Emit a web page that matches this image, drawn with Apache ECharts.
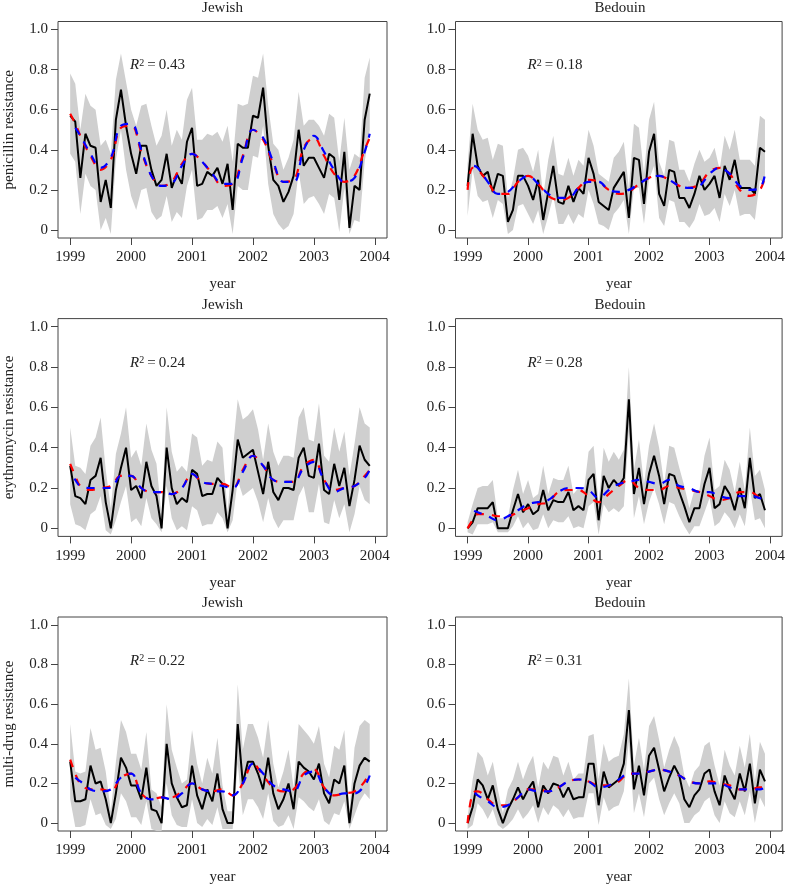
<!DOCTYPE html>
<html><head><meta charset="utf-8">
<script src="https://cdn.jsdelivr.net/npm/echarts@6/dist/echarts.min.js"></script>
<style>html,body{margin:0;padding:0;background:#fff}#c{width:788px;height:886px}</style>
</head><body><div id="c"></div>
<script>
// ---------- tick labels / categories ----------
const yearTicks = [1999, 2000, 2001, 2002, 2003, 2004];
const yearLabels = ['1999', '2000', '2001', '2002', '2003', '2004'];
const yTicks = [0, 0.2, 0.4, 0.6, 0.8, 1.0];
const yLabels = ['0', '0.2', '0.4', '0.6', '0.8', '1.0'];
const panelTitles = ['Jewish', 'Bedouin', 'Jewish', 'Bedouin', 'Jewish', 'Bedouin'];
const rowNames = ['penicillin resistance', 'erythromycin resistance', 'multi-drug resistance'];
const r2Values = ['0.43', '0.18', '0.24', '0.28', '0.22', '0.31'];
// month indices of observations (Jan 1999 = 0) and of fitted-curve readings
const monthIdx = [0,1,2,3,4,5,6,7,8,9,10,11,12,13,14,15,16,17,18,19,20,21,22,23,24,25,26,27,28,29,30,31,32,33,34,35,36,37,38,39,40,41,42,43,44,45,46,47,48,49,50,51,52,53,54,55,56,57,58,59];
const fitIdx = [0,1,2,4,6,8,10,12,14,16,18,20,22,24,26,28,30,32,34,36,38,40,42,44,46,48,50,52,54,56,58,59];

// ---------- penicillin, Jewish ----------
const penJewObs = [0.57,0.54,0.26,0.48,0.42,0.41,0.14,0.25,0.11,0.55,0.70,0.52,0.38,0.28,0.42,0.42,0.30,0.22,0.25,0.38,0.21,0.28,0.23,0.44,0.51,0.22,0.23,0.29,0.27,0.31,0.23,0.33,0.10,0.43,0.41,0.41,0.57,0.56,0.71,0.42,0.25,0.22,0.14,0.19,0.27,0.50,0.32,0.36,0.36,0.31,0.26,0.38,0.36,0.15,0.39,0.01,0.22,0.20,0.55,0.68];
const penJewHi = [0.78,0.73,0.50,0.68,0.62,0.60,0.42,0.45,0.38,0.75,0.88,0.74,0.60,0.52,0.62,0.63,0.52,0.42,0.47,0.60,0.42,0.50,0.45,0.65,0.71,0.45,0.45,0.48,0.47,0.49,0.44,0.52,0.34,0.63,0.62,0.63,0.77,0.76,0.88,0.62,0.43,0.40,0.30,0.36,0.45,0.69,0.52,0.55,0.55,0.52,0.47,0.58,0.56,0.34,0.56,0.30,0.38,0.36,0.76,0.86];
const penJewLo = [0.38,0.34,0.08,0.28,0.22,0.20,0.00,0.06,-0.02,0.35,0.50,0.30,0.17,0.10,0.20,0.21,0.09,0.05,0.07,0.17,0.04,0.09,0.06,0.22,0.30,0.05,0.06,0.10,0.10,0.12,0.06,0.13,-0.02,0.22,0.20,0.20,0.37,0.36,0.52,0.23,0.08,0.03,0.00,0.02,0.08,0.29,0.13,0.16,0.17,0.13,0.08,0.18,0.16,-0.01,0.21,-0.02,0.05,0.04,0.34,0.50];
const penJewRed = [0.58,0.53,0.47,0.37,0.30,0.35,0.51,0.52,0.39,0.27,0.22,0.24,0.33,0.38,0.34,0.28,0.22,0.23,0.37,0.50,0.45,0.33,0.24,0.25,0.41,0.46,0.37,0.28,0.24,0.27,0.40,0.46];
const penJewBlue = [0.54,0.51,0.47,0.38,0.31,0.36,0.52,0.53,0.40,0.27,0.22,0.23,0.32,0.38,0.34,0.28,0.23,0.23,0.36,0.50,0.46,0.34,0.24,0.24,0.40,0.47,0.39,0.30,0.24,0.26,0.39,0.48];

// ---------- penicillin, Bedouin ----------
const penBedObs = [0.22,0.48,0.32,0.27,0.29,0.19,0.28,0.27,0.04,0.10,0.27,0.27,0.22,0.15,0.25,0.05,0.19,0.32,0.14,0.13,0.22,0.14,0.21,0.18,0.36,0.28,0.14,0.12,0.10,0.21,0.25,0.29,0.06,0.36,0.35,0.13,0.39,0.48,0.18,0.12,0.30,0.29,0.16,0.16,0.11,0.18,0.27,0.20,0.23,0.27,0.16,0.32,0.25,0.35,0.21,0.21,0.21,0.18,0.41,0.39];
const penBedHi = [0.33,0.63,0.50,0.45,0.46,0.35,0.43,0.42,0.16,0.25,0.40,0.41,0.37,0.29,0.40,0.17,0.35,0.47,0.28,0.27,0.36,0.27,0.35,0.32,0.50,0.42,0.28,0.26,0.24,0.36,0.39,0.44,0.21,0.53,0.51,0.28,0.55,0.64,0.34,0.27,0.45,0.44,0.30,0.30,0.24,0.33,0.40,0.34,0.36,0.41,0.30,0.47,0.40,0.50,0.35,0.35,0.35,0.32,0.57,0.55];
const penBedLo = [0.07,0.30,0.17,0.14,0.15,0.06,0.15,0.13,-0.02,0.00,0.12,0.13,0.08,0.03,0.10,-0.02,0.07,0.17,0.03,0.03,0.08,0.03,0.08,0.06,0.20,0.13,0.03,0.02,0.00,0.08,0.11,0.15,-0.02,0.21,0.21,0.03,0.25,0.32,0.06,0.02,0.15,0.14,0.04,0.04,0.01,0.05,0.13,0.07,0.08,0.11,0.04,0.18,0.12,0.20,0.07,0.08,0.08,0.05,0.25,0.23];
const penBedRed = [0.20,0.31,0.30,0.24,0.18,0.18,0.24,0.27,0.23,0.17,0.15,0.16,0.21,0.25,0.24,0.20,0.18,0.19,0.23,0.26,0.27,0.25,0.22,0.21,0.23,0.29,0.31,0.28,0.20,0.17,0.20,0.27];
const penBedBlue = [0.30,0.32,0.31,0.24,0.18,0.19,0.24,0.27,0.23,0.18,0.16,0.16,0.21,0.24,0.24,0.20,0.19,0.20,0.23,0.26,0.27,0.25,0.22,0.21,0.22,0.28,0.31,0.28,0.22,0.20,0.21,0.28];

// ---------- erythromycin, Jewish ----------
const eryJewObs = [0.31,0.16,0.15,0.12,0.24,0.26,0.35,0.13,0.00,0.19,0.30,0.40,0.19,0.21,0.15,0.33,0.21,0.16,0.00,0.40,0.20,0.12,0.15,0.13,0.29,0.27,0.16,0.17,0.17,0.25,0.22,0.00,0.19,0.44,0.35,0.37,0.39,0.28,0.17,0.33,0.18,0.14,0.20,0.20,0.19,0.35,0.40,0.26,0.25,0.42,0.19,0.17,0.32,0.21,0.30,0.11,0.24,0.41,0.34,0.31];
const eryJewHi = [0.50,0.31,0.30,0.27,0.41,0.45,0.55,0.29,0.10,0.37,0.47,0.60,0.35,0.39,0.31,0.52,0.39,0.32,0.06,0.60,0.38,0.28,0.31,0.28,0.47,0.45,0.31,0.34,0.33,0.43,0.40,0.08,0.38,0.64,0.54,0.56,0.59,0.49,0.34,0.52,0.38,0.31,0.36,0.36,0.35,0.55,0.60,0.44,0.43,0.62,0.36,0.33,0.50,0.38,0.48,0.26,0.42,0.60,0.52,0.50];
const eryJewLo = [0.12,0.02,0.01,-0.01,0.07,0.09,0.16,-0.01,-0.03,0.04,0.13,0.21,0.03,0.05,0.01,0.15,0.05,0.02,-0.02,0.21,0.05,-0.01,0.01,-0.01,0.11,0.09,0.01,0.02,0.02,0.08,0.05,-0.02,0.04,0.24,0.16,0.18,0.20,0.13,0.03,0.15,0.05,0.00,0.04,0.04,0.04,0.16,0.21,0.08,0.08,0.22,0.03,0.02,0.14,0.05,0.12,-0.02,0.07,0.21,0.14,0.12];
const eryJewRed = [0.32,0.26,0.21,0.19,0.20,0.21,0.26,0.26,0.20,0.18,0.18,0.17,0.20,0.27,0.23,0.22,0.22,0.20,0.29,0.36,0.31,0.24,0.23,0.23,0.31,0.34,0.24,0.19,0.20,0.21,0.26,0.29];
const eryJewBlue = [0.28,0.24,0.21,0.20,0.20,0.20,0.26,0.26,0.20,0.18,0.18,0.17,0.20,0.27,0.23,0.22,0.21,0.20,0.28,0.36,0.31,0.24,0.23,0.23,0.30,0.33,0.24,0.18,0.20,0.21,0.25,0.29];

// ---------- erythromycin, Bedouin ----------
const eryBedObs = [0.00,0.03,0.10,0.10,0.10,0.13,0.00,0.00,0.00,0.09,0.17,0.08,0.12,0.07,0.09,0.19,0.09,0.14,0.13,0.13,0.18,0.09,0.11,0.09,0.24,0.27,0.04,0.26,0.20,0.24,0.21,0.25,0.64,0.17,0.30,0.12,0.27,0.36,0.26,0.12,0.27,0.26,0.18,0.11,0.03,0.10,0.10,0.22,0.30,0.10,0.12,0.21,0.17,0.09,0.20,0.10,0.35,0.15,0.17,0.09];
const eryBedHi = [0.03,0.12,0.20,0.21,0.21,0.24,0.05,0.05,0.05,0.19,0.29,0.17,0.24,0.15,0.17,0.31,0.17,0.25,0.24,0.24,0.31,0.17,0.20,0.17,0.38,0.41,0.12,0.40,0.33,0.38,0.34,0.39,0.80,0.29,0.44,0.22,0.41,0.52,0.40,0.22,0.41,0.40,0.30,0.21,0.10,0.19,0.19,0.36,0.45,0.19,0.21,0.34,0.29,0.18,0.33,0.19,0.50,0.26,0.29,0.19];
const eryBedLo = [-0.02,-0.03,0.02,0.02,0.02,0.03,-0.02,-0.02,-0.02,0.01,0.06,0.00,0.03,-0.01,0.00,0.07,0.00,0.04,0.03,0.03,0.06,0.00,0.01,0.00,0.11,0.13,-0.03,0.12,0.08,0.10,0.08,0.11,0.48,0.05,0.16,0.02,0.13,0.20,0.12,0.02,0.13,0.12,0.06,0.01,-0.03,0.01,0.01,0.08,0.15,0.01,0.03,0.08,0.05,0.00,0.07,0.01,0.20,0.04,0.05,0.00];
const eryBedRed = [0.00,0.04,0.07,0.07,0.06,0.06,0.08,0.10,0.12,0.13,0.18,0.19,0.19,0.16,0.13,0.17,0.21,0.24,0.20,0.19,0.19,0.21,0.20,0.19,0.18,0.16,0.14,0.15,0.18,0.18,0.15,0.13];
const eryBedBlue = [0.11,0.09,0.08,0.06,0.04,0.06,0.09,0.12,0.13,0.14,0.18,0.20,0.20,0.19,0.15,0.19,0.22,0.23,0.24,0.23,0.22,0.24,0.21,0.20,0.18,0.18,0.16,0.15,0.16,0.16,0.15,0.14];

// ---------- multi-drug, Jewish ----------
const mdrJewObs = [0.31,0.11,0.11,0.12,0.29,0.20,0.21,0.12,0.00,0.15,0.33,0.28,0.19,0.19,0.12,0.28,0.07,0.06,0.00,0.40,0.20,0.13,0.08,0.09,0.29,0.14,0.07,0.17,0.11,0.25,0.07,0.00,0.00,0.50,0.20,0.31,0.31,0.25,0.17,0.33,0.15,0.07,0.12,0.20,0.07,0.31,0.28,0.26,0.22,0.30,0.15,0.10,0.22,0.20,0.29,0.00,0.20,0.29,0.33,0.31];
const mdrJewHi = [0.50,0.26,0.25,0.26,0.48,0.37,0.38,0.26,0.06,0.31,0.52,0.46,0.35,0.35,0.27,0.46,0.17,0.15,0.08,0.60,0.37,0.28,0.20,0.22,0.47,0.30,0.20,0.33,0.25,0.43,0.19,0.06,0.06,0.70,0.37,0.50,0.50,0.43,0.33,0.52,0.30,0.18,0.26,0.37,0.18,0.50,0.47,0.44,0.40,0.49,0.30,0.23,0.39,0.37,0.47,0.06,0.38,0.49,0.52,0.50];
const mdrJewLo = [0.12,-0.02,-0.02,-0.01,0.12,0.04,0.05,-0.01,-0.03,0.02,0.15,0.11,0.03,0.03,-0.01,0.11,-0.03,-0.04,-0.04,0.20,0.04,-0.01,-0.02,-0.02,0.12,0.00,-0.02,0.02,-0.01,0.08,-0.03,-0.03,-0.03,0.30,0.04,0.12,0.12,0.08,0.02,0.15,0.01,-0.02,-0.01,0.04,-0.03,0.13,0.11,0.08,0.06,0.12,0.01,-0.01,0.05,0.04,0.11,-0.03,0.04,0.11,0.15,0.12];
const mdrJewRed = [0.32,0.25,0.20,0.17,0.17,0.16,0.23,0.25,0.15,0.12,0.13,0.13,0.16,0.20,0.17,0.16,0.17,0.14,0.20,0.30,0.24,0.18,0.16,0.17,0.25,0.27,0.18,0.14,0.15,0.16,0.21,0.26];
const mdrJewBlue = [0.26,0.23,0.21,0.17,0.16,0.17,0.23,0.25,0.15,0.12,0.13,0.12,0.15,0.20,0.17,0.16,0.16,0.14,0.20,0.30,0.25,0.19,0.17,0.16,0.24,0.26,0.18,0.14,0.15,0.15,0.19,0.24];

// ---------- multi-drug, Bedouin ----------
const mdrBedObs = [0.00,0.08,0.22,0.19,0.12,0.19,0.07,0.00,0.07,0.12,0.18,0.12,0.17,0.21,0.08,0.19,0.15,0.20,0.19,0.13,0.18,0.12,0.13,0.13,0.30,0.30,0.09,0.26,0.18,0.20,0.22,0.30,0.57,0.17,0.29,0.14,0.34,0.38,0.27,0.16,0.23,0.29,0.24,0.12,0.08,0.14,0.17,0.25,0.27,0.16,0.09,0.24,0.17,0.12,0.25,0.16,0.30,0.10,0.27,0.21];
const mdrBedHi = [0.03,0.22,0.36,0.33,0.24,0.31,0.17,0.05,0.17,0.22,0.31,0.22,0.29,0.34,0.18,0.31,0.27,0.34,0.33,0.24,0.31,0.22,0.25,0.25,0.44,0.45,0.22,0.40,0.31,0.33,0.34,0.45,0.73,0.29,0.43,0.27,0.49,0.54,0.42,0.28,0.37,0.44,0.38,0.24,0.18,0.26,0.29,0.39,0.41,0.29,0.19,0.37,0.29,0.24,0.39,0.28,0.45,0.21,0.41,0.35];
const mdrBedLo = [-0.03,-0.01,0.10,0.07,0.02,0.07,-0.01,-0.03,-0.01,0.02,0.07,0.02,0.05,0.09,0.00,0.08,0.04,0.09,0.07,0.03,0.07,0.02,0.03,0.03,0.15,0.15,-0.01,0.13,0.06,0.08,0.09,0.16,0.41,0.05,0.15,0.03,0.20,0.23,0.12,0.04,0.10,0.15,0.10,0.00,0.00,0.04,0.06,0.11,0.13,0.04,0.00,0.11,0.05,0.03,0.11,0.04,0.16,0.00,0.13,0.08];
const mdrBedRed = [0.00,0.15,0.16,0.12,0.09,0.09,0.13,0.17,0.17,0.16,0.18,0.21,0.22,0.21,0.19,0.19,0.21,0.25,0.25,0.26,0.27,0.26,0.24,0.21,0.20,0.21,0.20,0.19,0.17,0.17,0.18,0.18];
const mdrBedBlue = [0.17,0.16,0.14,0.11,0.08,0.09,0.13,0.17,0.16,0.16,0.18,0.21,0.22,0.21,0.18,0.19,0.22,0.25,0.25,0.26,0.27,0.26,0.24,0.21,0.20,0.20,0.20,0.18,0.17,0.17,0.17,0.18];

const panels = [
  {obs: penJewObs, hi: penJewHi, lo: penJewLo, red: penJewRed, blue: penJewBlue},
  {obs: penBedObs, hi: penBedHi, lo: penBedLo, red: penBedRed, blue: penBedBlue},
  {obs: eryJewObs, hi: eryJewHi, lo: eryJewLo, red: eryJewRed, blue: eryJewBlue},
  {obs: eryBedObs, hi: eryBedHi, lo: eryBedLo, red: eryBedRed, blue: eryBedBlue},
  {obs: mdrJewObs, hi: mdrJewHi, lo: mdrJewLo, red: mdrJewRed, blue: mdrJewBlue},
  {obs: mdrBedObs, hi: mdrBedHi, lo: mdrBedLo, red: mdrBedRed, blue: mdrBedBlue}
];

// ---------- layout ----------
const FONT = 'Liberation Serif, Times New Roman, serif';
const FS = 15;
const colLeft = [58, 455.5];
const gridW = 329;
const rowTop = [21.5, 318.6, 617];
const gridH = [216.5, 217.8, 217.8];
const monthX = m => 1999 + m / 12;

const grids = [], xAxes = [], yAxes = [], series = [], graphics = [];
panels.forEach((p, i) => {
  const r = Math.floor(i / 2), c = i % 2;
  const left = colLeft[c], top = rowTop[r], h = gridH[r];
  grids.push({left, top, width: gridW, height: h, show: true, borderColor: '#444', borderWidth: 1, backgroundColor: 'transparent'});
  xAxes.push({
    gridIndex: i, type: 'value', min: 1998.8, max: 2004.2,
    splitLine: {show: false},
    axisLine: {show: false, onZero: false},
    axisTick: {show: true, inside: false, length: 7, lineStyle: {color: '#444', width: 1}, customValues: yearTicks},
    axisLabel: {customValues: yearTicks, margin: 12, fontFamily: FONT, fontSize: FS, color: '#222',
      formatter: v => yearLabels[yearTicks.indexOf(Math.round(v))]},
    name: 'year', nameLocation: 'middle', nameGap: 39,
    nameTextStyle: {fontFamily: FONT, fontSize: FS, color: '#222'}
  });
  yAxes.push({
    gridIndex: i, type: 'value', min: -0.04, max: 1.04,
    splitLine: {show: false},
    axisLine: {show: false, onZero: false},
    axisTick: {show: true, inside: false, length: 7, lineStyle: {color: '#444', width: 1}, customValues: yTicks},
    axisLabel: {customValues: yTicks, margin: 10, fontFamily: FONT, fontSize: FS, color: '#222',
      formatter: v => { let k = 0; yTicks.forEach((t, j) => { if (Math.abs(t - v) < 1e-6) k = j; }); return yLabels[k]; }},
    name: c === 0 ? rowNames[r] : '', nameLocation: 'middle', nameGap: 41,
    nameTextStyle: {fontFamily: FONT, fontSize: FS, color: '#222'}
  });
  const xs = monthIdx.map(monthX);
  // confidence band
  series.push({
    type: 'custom', xAxisIndex: i, yAxisIndex: i, z: 1, silent: true,
    data: monthIdx.map((m, k) => [xs[k], p.hi[k], p.lo[k]]),
    encode: {x: 0, y: [1, 2]},
    renderItem: (params, api) => {
      if (params.dataIndex !== 0) return {type: 'group', children: []};
      const pts = [];
      for (let k = 0; k < xs.length; k++) pts.push(api.coord([xs[k], p.hi[k]]));
      for (let k = xs.length - 1; k >= 0; k--) pts.push(api.coord([xs[k], p.lo[k]]));
      return {type: 'polygon', shape: {points: pts}, style: {fill: '#cfcfcf', stroke: null}};
    }
  });
  // observations
  series.push({
    type: 'line', xAxisIndex: i, yAxisIndex: i, z: 3, showSymbol: false, silent: true,
    data: monthIdx.map((m, k) => [xs[k], p.obs[k]]),
    lineStyle: {color: '#000', width: 2}
  });
  // fitted curves
  series.push({
    type: 'line', xAxisIndex: i, yAxisIndex: i, z: 4, showSymbol: false, silent: true, smooth: 0.4,
    data: fitIdx.map((m, k) => [monthX(m), p.red[k]]),
    lineStyle: {color: '#ff0000', width: 2.2, type: [8, 8]}
  });
  series.push({
    type: 'line', xAxisIndex: i, yAxisIndex: i, z: 5, showSymbol: false, silent: true, smooth: 0.4,
    data: fitIdx.map((m, k) => [monthX(m), p.blue[k]]),
    lineStyle: {color: '#0000ff', width: 2.2, type: [8, 8], dashOffset: 8}
  });
  // panel title
  graphics.push({type: 'text', x: left + gridW / 2, y: top - 13.5, z: 10,
    style: {text: panelTitles[i], fontFamily: FONT, fontSize: FS, fill: '#222', align: 'center', verticalAlign: 'middle'}});
  // R^2 annotation
  graphics.push({type: 'text', x: left + 72, y: top + 44, z: 10,
    style: {text: '{i|R}{s|2}{n|\u2009=\u2009' + r2Values[i] + '}', verticalAlign: 'middle', fill: '#222',
      rich: {
        i: {fontFamily: FONT, fontSize: 15, fontStyle: 'italic', fill: '#222'},
        s: {fontFamily: FONT, fontSize: 10, fill: '#222', verticalAlign: 'top'},
        n: {fontFamily: FONT, fontSize: 15, fill: '#222'}
      }}});
});

const chart = echarts.init(document.getElementById('c'), null, {renderer: 'canvas'});
chart.setOption({
  animation: false,
  backgroundColor: '#fff',
  grid: grids, xAxis: xAxes, yAxis: yAxes, series, graphic: graphics
});
</script></body></html>
